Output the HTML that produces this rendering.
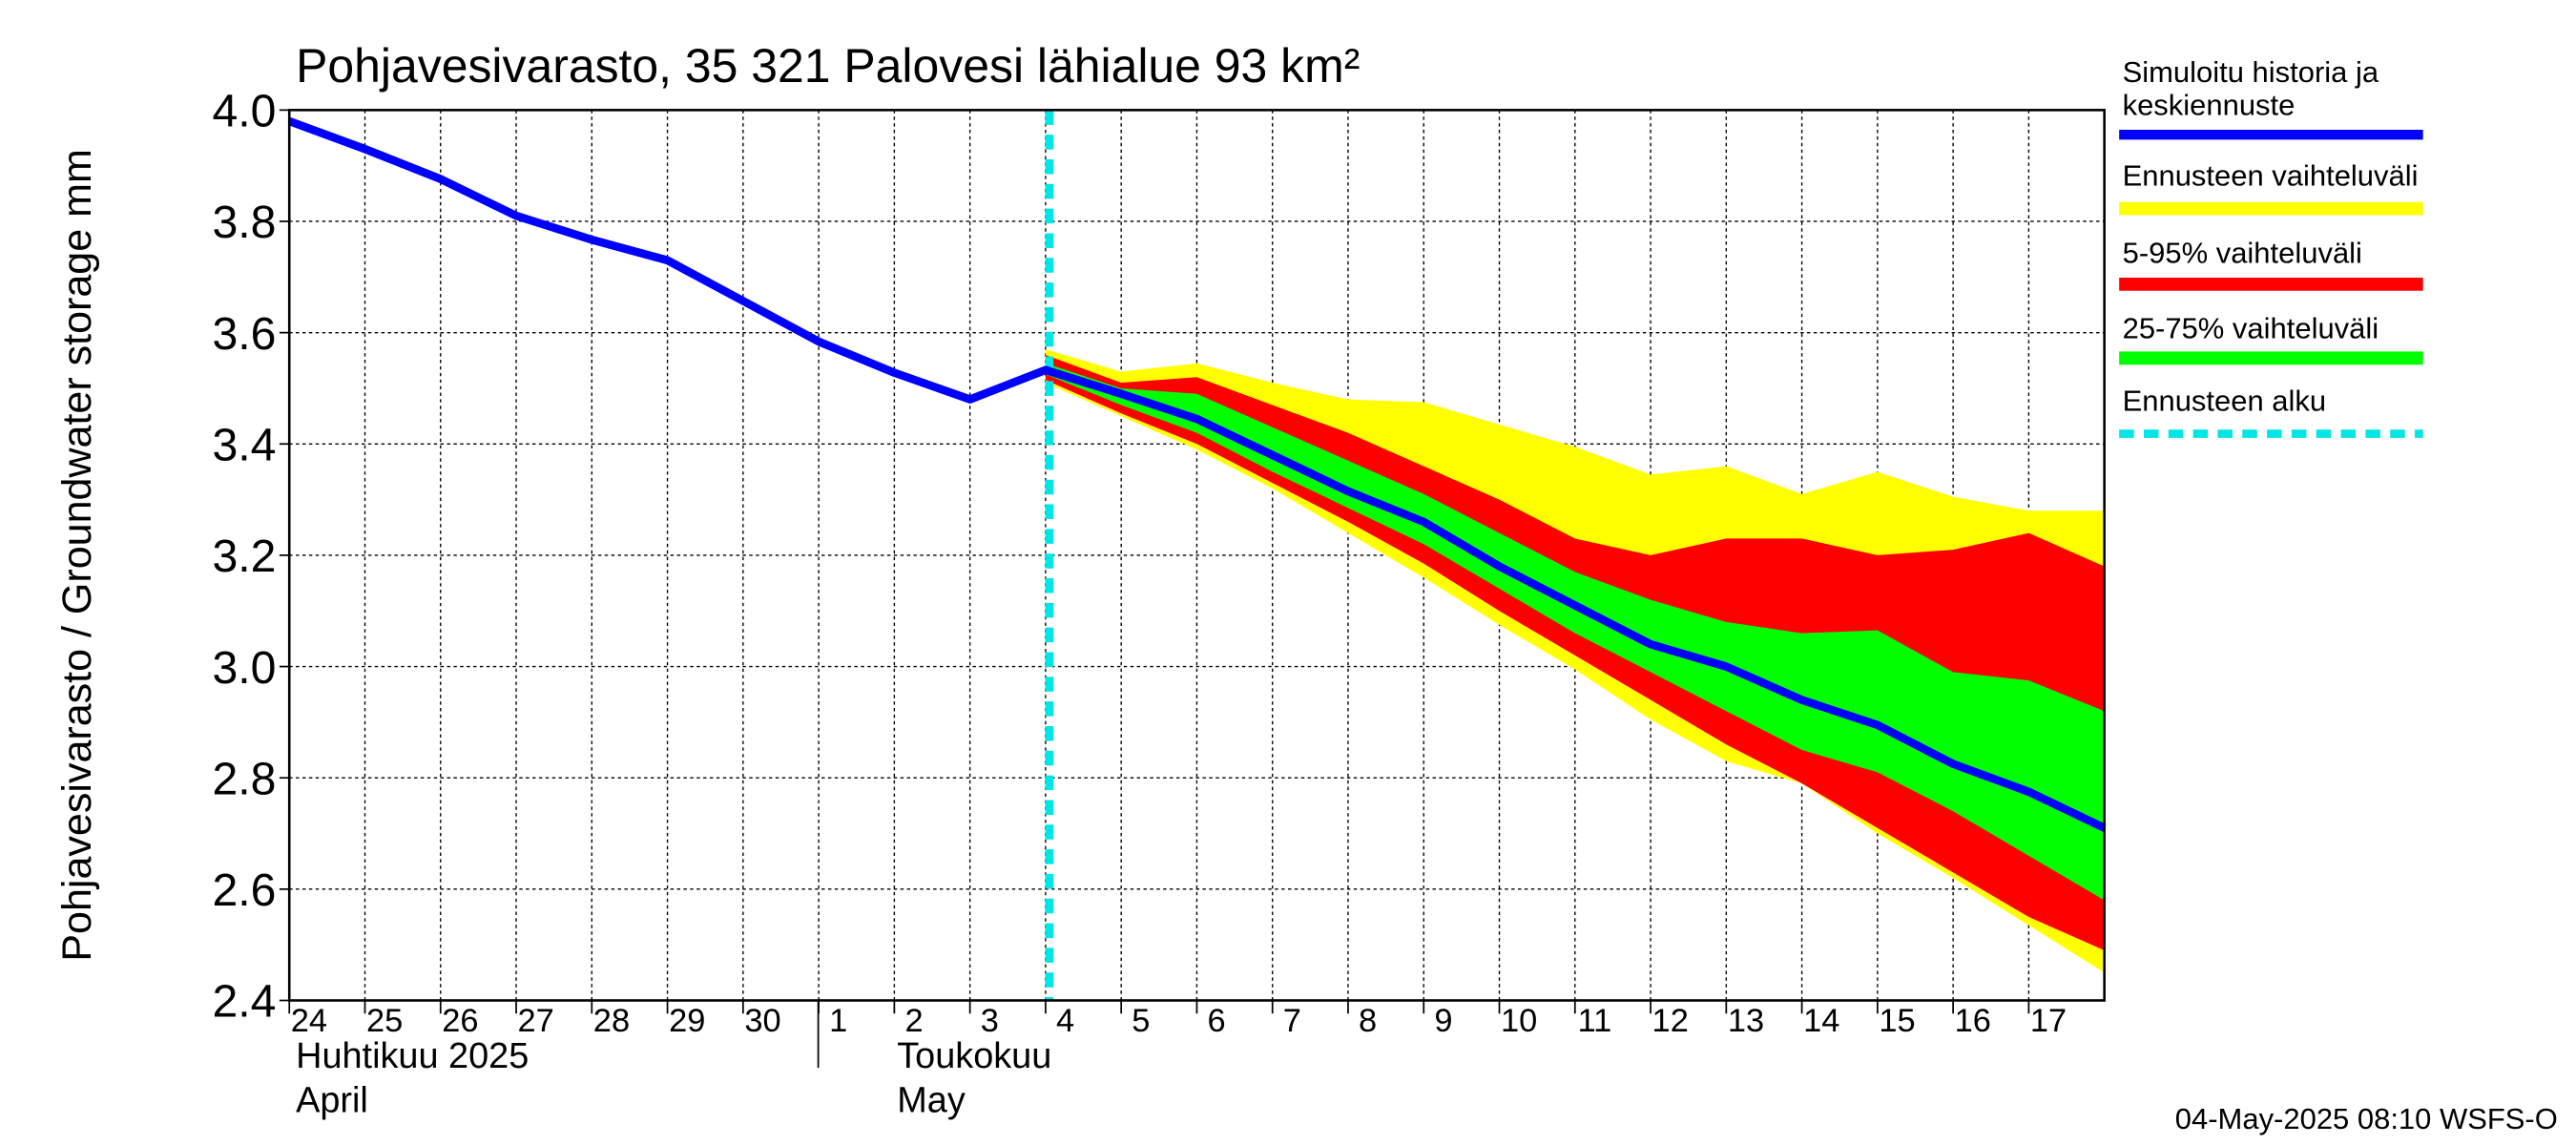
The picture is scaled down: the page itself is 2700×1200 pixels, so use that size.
<!DOCTYPE html>
<html><head><meta charset="utf-8"><style>html,body{margin:0;padding:0;background:#fff}svg{display:block}text{font-family:"Liberation Sans",sans-serif}</style></head>
<body>
<svg width="2700" height="1200" viewBox="0 0 1568 697" xmlns="http://www.w3.org/2000/svg">
<rect width="1568" height="697" fill="#fff"/>
<g id="grid"></g>
<g id="bands"></g>
<g id="lines"></g>
<rect x="176" y="67" width="1105" height="542" fill="none" stroke="#000" stroke-width="1.5"/>
<g id="ticks"></g>
<text x="180" y="50" font-size="29">Pohjavesivarasto, 35 321 Palovesi lähialue 93 km²</text>
<text transform="translate(55,338) rotate(-90)" text-anchor="middle" font-size="25">Pohjavesivarasto / Groundwater storage   mm</text>
<text x="180" y="650" font-size="22">Huhtikuu  2025</text>
<text x="180" y="677" font-size="22">April</text>
<text x="546" y="650" font-size="22">Toukokuu</text>
<text x="546" y="677" font-size="22">May</text>
<line x1="498" y1="609" x2="498" y2="650" stroke="#000" stroke-width="1"/>
<text x="1557" y="687" text-anchor="end" font-size="18">04-May-2025 08:10 WSFS-O</text>
<g font-size="18">
<text x="1292" y="50">Simuloitu historia ja</text><text x="1292" y="70">keskiennuste</text>
<line x1="1290" y1="82" x2="1475" y2="82" stroke="#0000ff" stroke-width="6"/>
<text x="1292" y="113">Ennusteen vaihteluväli</text>
<line x1="1290" y1="127" x2="1475" y2="127" stroke="#ffff00" stroke-width="8"/>
<text x="1292" y="160">5-95% vaihteluväli</text>
<line x1="1290" y1="173" x2="1475" y2="173" stroke="#ff0000" stroke-width="8"/>
<text x="1292" y="206">25-75% vaihteluväli</text>
<line x1="1290" y1="218" x2="1475" y2="218" stroke="#00ff00" stroke-width="8"/>
<text x="1292" y="250">Ennusteen alku</text>
<line x1="1290" y1="264" x2="1475" y2="264" stroke="#00e5e5" stroke-width="5" stroke-dasharray="9,6"/>
</g>
</svg>
<script>
const dayLabels=["24","25","26","27","28","29","30","1","2","3","4","5","6","7","8","9","10","11","12","13","14","15","16","17"];
const yTicks=[2.4,2.6,2.8,3.0,3.2,3.4,3.6,3.8,4.0];
const history=[3.98,3.93,3.876,3.81,3.767,3.73,3.657,3.584,3.528,3.48,3.533];
const median=[3.533,3.49,3.445,3.38,3.315,3.26,3.18,3.11,3.04,3.0,2.94,2.895,2.825,2.775,2.71];
const yelHi=[3.57,3.53,3.545,3.51,3.48,3.475,3.435,3.395,3.345,3.36,3.31,3.35,3.305,3.28,3.28];
const yelLo=[3.51,3.45,3.39,3.32,3.24,3.16,3.075,2.995,2.905,2.83,2.79,2.70,2.62,2.535,2.45];
const redHi=[3.56,3.51,3.52,3.47,3.42,3.36,3.30,3.23,3.20,3.23,3.23,3.20,3.21,3.24,3.18];
const redLo=[3.515,3.455,3.40,3.33,3.26,3.185,3.10,3.02,2.94,2.86,2.79,2.71,2.63,2.55,2.49];
const grnHi=[3.545,3.50,3.49,3.43,3.37,3.31,3.24,3.17,3.12,3.08,3.06,3.065,2.99,2.975,2.92];
const grnLo=[3.525,3.47,3.42,3.35,3.285,3.22,3.14,3.06,2.99,2.92,2.85,2.81,2.74,2.66,2.58];
const forecastStartDay=10.05;
const X0=176,X1=1281,Y0=609,Y1=67,NDAYS=24;
const xs=d=>X0+(X1-X0)*d/NDAYS;
const ys=v=>Y0-(v-2.4)/(4.0-2.4)*(Y0-Y1);
const NS="http://www.w3.org/2000/svg";
function mk(tag,parent,attrs){const e=document.createElementNS(NS,tag);for(const k in attrs)e.setAttribute(k,attrs[k]);parent.appendChild(e);return e;}
const grid=document.getElementById('grid'),ticks=document.getElementById('ticks'),bands=document.getElementById('bands'),lines=document.getElementById('lines');
for(let i=1;i<NDAYS;i++){const l=mk('line',grid,{x1:xs(i),x2:xs(i),y1:Y1,y2:Y0,stroke:'#000','stroke-width':0.8,'stroke-dasharray':'2,2'});

}
yTicks.forEach(v=>{const l=mk('line',grid,{x1:X0,x2:X1,y1:ys(v),y2:ys(v),stroke:'#000','stroke-width':0.8,'stroke-dasharray':'2,2'});


const t=mk('text',ticks,{x:X0-8,y:ys(v)+10,'text-anchor':'end','font-size':28});t.textContent=v.toFixed(1);


const tk=mk('line',ticks,{x1:X0-6,x2:X0,y1:ys(v),y2:ys(v),stroke:'#000'});

});
dayLabels.forEach((s,i)=>{const t=mk('text',ticks,{x:xs(i)+12,y:628,'text-anchor':'middle','font-size':20});t.textContent=s;


const tk=mk('line',ticks,{x1:xs(i),x2:xs(i),y1:Y0,y2:Y0+8,stroke:'#000'});

});
function band(hi,lo,color,name){const pts=[];hi.forEach((v,i)=>pts.push(xs(10+i)+','+ys(v)));for(let i=lo.length-1;i>=0;i--)pts.push(xs(10+i)+','+ys(lo[i]));
const p=mk('polygon',bands,{points:pts.join(' '),fill:color});

}
band(yelHi,yelLo,'#ffff00','band-range');
band(redHi,redLo,'#ff0000','band-5-95');
band(grnHi,grnLo,'#00ff00','band-25-75');
const fl=mk('line',lines,{x1:xs(forecastStartDay),x2:xs(forecastStartDay),y1:Y1,y2:Y0,stroke:'#00e5e5','stroke-width':5,'stroke-dasharray':'9,6'});


const hp=history.map((v,i)=>xs(i)+','+ys(v)).concat(median.map((v,i)=>xs(10+i)+','+ys(v)));
const ml=mk('polyline',lines,{points:hp.join(' '),fill:'none',stroke:'#0000ff','stroke-width':5,'stroke-linejoin':'round'});


</script>
</body></html>
